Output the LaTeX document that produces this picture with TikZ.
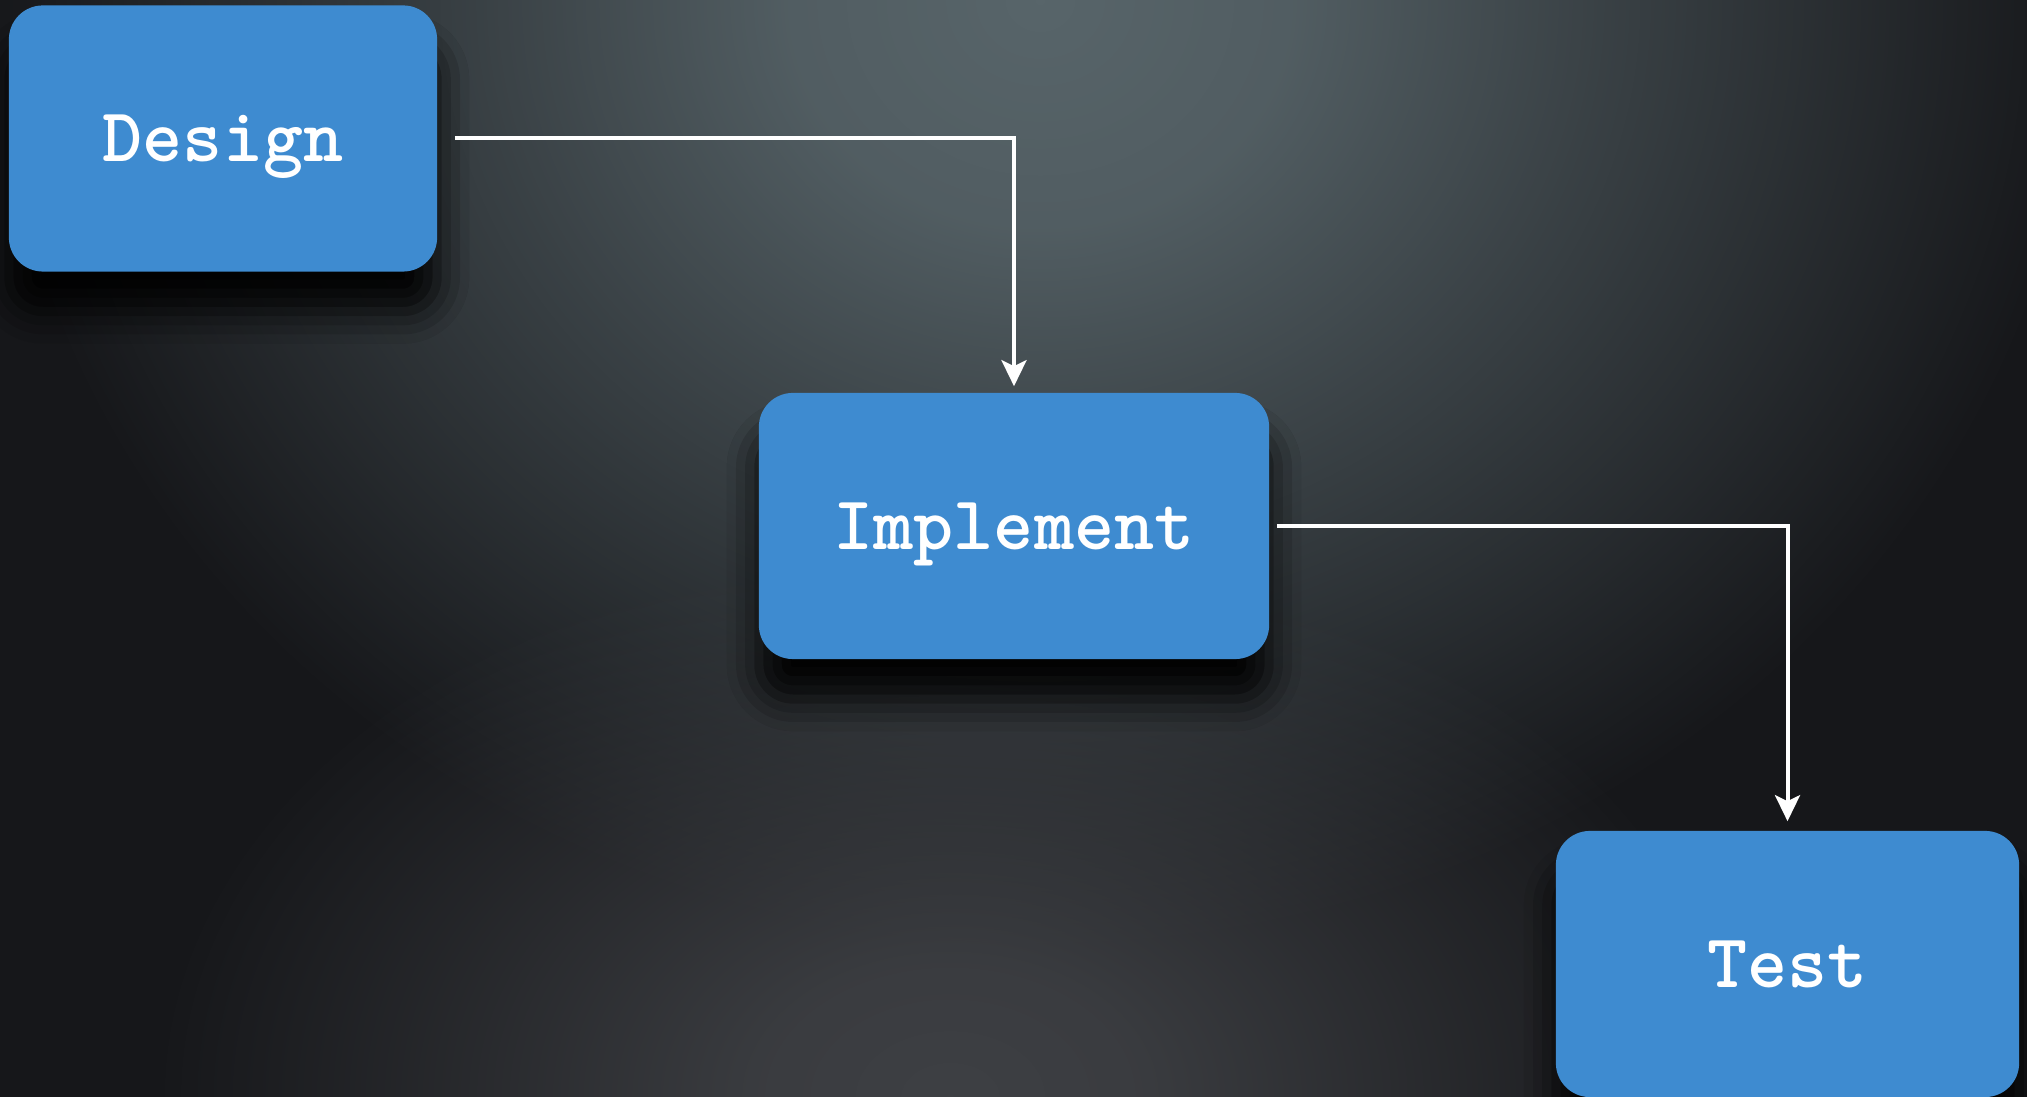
\documentclass[tikz,border=0pt]{standalone}
\usepackage{fontspec}
\usepackage{xcolor}
\usetikzlibrary{arrows.meta,positioning,shadows.blur,fadings}

\definecolor{slatebg}{RGB}{22,23,26}
\definecolor{slateglow}{RGB}{88,101,106}
\definecolor{floorglow}{RGB}{62,64,68}
\definecolor{stageblue}{RGB}{62,139,208}

\pgfdeclareradialshading{softglowmask}{\pgfpointorigin}{color(0bp)=(pgftransparent!0); color(6bp)=(pgftransparent!10); color(12.5bp)=(pgftransparent!42); color(25bp)=(pgftransparent!100); color(50bp)=(pgftransparent!100)}
\pgfdeclarefading{softglow}{\pgfuseshading{softglowmask}}

\tikzset{
    stage/.style={rectangle, rounded corners=0.34cm, fill=stageblue, text=white,
        inner sep=0pt, minimum height=2.66cm, text height=13.26pt, text depth=0pt,
        font=\ttfamily\bfseries\fontsize{21.7}{26}\selectfont,
        blur shadow={shadow xshift=0cm, shadow yshift=-0.4cm, shadow blur radius=0.32cm, shadow opacity=95}},
    flow/.style={draw=white, line width=0.04cm, -{Stealth[length=0.26cm, width=0.25cm, inset=0.06cm]}}
}

\begin{document}
\begin{tikzpicture}[x=0.01cm, y=0.01cm]
        \useasboundingbox (0,0) rectangle (2027,1097);
        \clip (0,0) rectangle (2027,1097);
        \fill[slatebg] (0,0) rectangle (2027,1097);
        \fill[slateglow, path fading=softglow] (1040,1097) ellipse (1050 and 950);
        \fill[floorglow, path fading=softglow] (950,0) ellipse (800 and 560);
        \node[stage, minimum width=4.28cm] (design) at (223,958.5) {Design};
        \node[stage, minimum width=5.10cm] (implement) at (1014,571) {Implement};
        \node[stage, minimum width=4.63cm] (test) at (1787.5,133) {Test};
        \draw[flow, shorten <=0.17cm, shorten >=0.06cm] (design.east) -| (implement.north);
        \draw[flow, shorten <=0.07cm, shorten >=0.09cm] (implement.east) -| (test.north);
\end{tikzpicture}
\end{document}
